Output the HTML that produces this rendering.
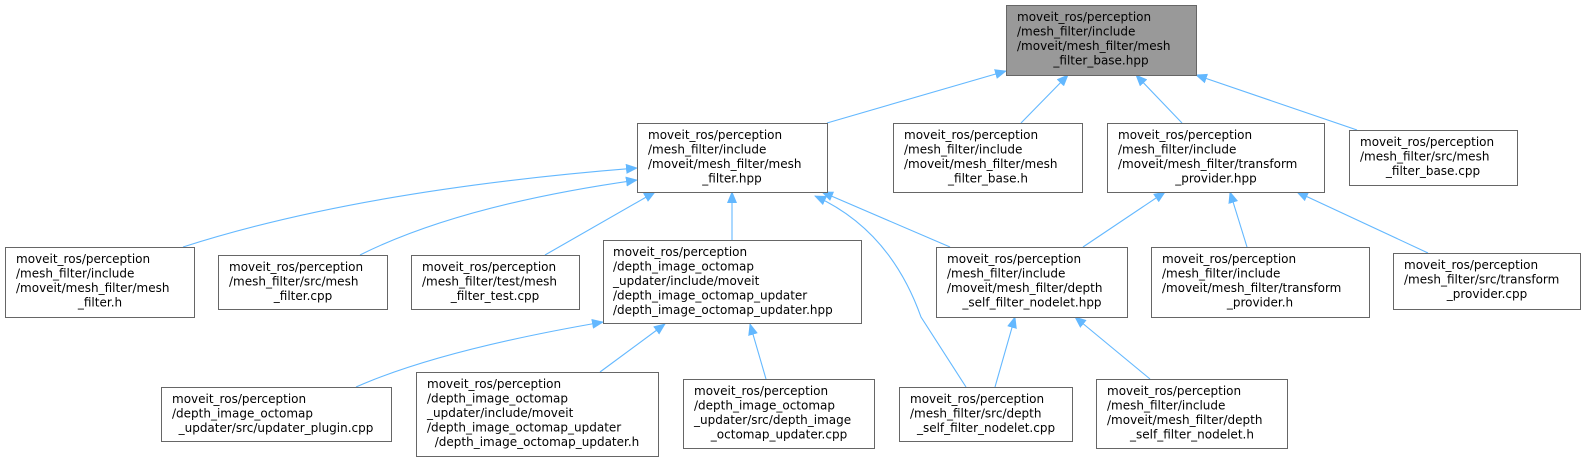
<!DOCTYPE html>
<html><head><meta charset="utf-8"><style>
html,body{margin:0;padding:0;background:#fff;}
svg{display:block;}
text{font-family:"DejaVu Sans","Liberation Sans",sans-serif;font-size:12px;fill:#000;}
</style></head><body>
<svg width="1589" height="461" viewBox="0 0 1589 461" xmlns="http://www.w3.org/2000/svg">
<defs>
<marker id="a" markerWidth="12" markerHeight="10" refX="11" refY="5" orient="auto" markerUnits="userSpaceOnUse">
<path d="M0,0 L12,5 L0,10 Z" fill="#63b8ff"/>
</marker>
</defs>
<g fill="none" stroke="#63b8ff" stroke-width="1.1" marker-end="url(#a)">
<path d="M827,123 L1006,71"/>
<path d="M1021,123 L1068,75"/>
<path d="M1182,123 L1136,75"/>
<path d="M1357,130 L1196,75"/>
<path d="M183,247 Q360,190 637,168"/>
<path d="M360,255 Q460,205 637,180"/>
<path d="M545,255 L655,192"/>
<path d="M732,240 L732,192"/>
<path d="M950,247 L822,192"/>
<path d="M966,387 L921,317 Q890,230 815,196"/>
<path d="M1083,247 L1165,192"/>
<path d="M1247,247 L1230,192"/>
<path d="M1428,253 L1297,192"/>
<path d="M356,387 Q440,350 603,322"/>
<path d="M600,372 L665,324"/>
<path d="M766,379 L750,324"/>
<path d="M995,387 L1015,317"/>
<path d="M1150,379 L1075,317"/>
</g>
<g stroke="#666" stroke-width="1">
<rect x="1006.5" y="5.5" width="190" height="70" fill="#999"/>
<rect x="637.5" y="123.5" width="190" height="69" fill="#fff"/>
<rect x="893.5" y="123.5" width="189" height="69" fill="#fff"/>
<rect x="1107.5" y="123.5" width="217" height="69" fill="#fff"/>
<rect x="1349.5" y="130.5" width="168" height="55" fill="#fff"/>
<rect x="5.5" y="247.5" width="189" height="70" fill="#fff"/>
<rect x="218.5" y="255.5" width="169" height="54" fill="#fff"/>
<rect x="411.5" y="255.5" width="168" height="54" fill="#fff"/>
<rect x="603.5" y="240.5" width="258" height="83" fill="#fff"/>
<rect x="936.5" y="247.5" width="191" height="70" fill="#fff"/>
<rect x="1151.5" y="247.5" width="218" height="70" fill="#fff"/>
<rect x="1393.5" y="253.5" width="187" height="56" fill="#fff"/>
<rect x="161.5" y="387.5" width="230" height="54" fill="#fff"/>
<rect x="416.5" y="372.5" width="242" height="84" fill="#fff"/>
<rect x="683.5" y="379.5" width="191" height="69" fill="#fff"/>
<rect x="899.5" y="387.5" width="173" height="54" fill="#fff"/>
<rect x="1096.5" y="379.5" width="191" height="69" fill="#fff"/>
</g>
<g>
<text x="1017" y="21">moveit_ros/perception</text><text x="1017" y="35.5">/mesh_filter/include</text><text x="1017" y="50">/moveit/mesh_filter/mesh</text><text x="1101" y="64.5" text-anchor="middle">_filter_base.hpp</text>

<text x="648" y="139">moveit_ros/perception</text><text x="648" y="153.5">/mesh_filter/include</text><text x="648" y="168">/moveit/mesh_filter/mesh</text><text x="732" y="182.5" text-anchor="middle">_filter.hpp</text>

<text x="904" y="139">moveit_ros/perception</text><text x="904" y="153.5">/mesh_filter/include</text><text x="904" y="168">/moveit/mesh_filter/mesh</text><text x="988" y="182.5" text-anchor="middle">_filter_base.h</text>

<text x="1118" y="139">moveit_ros/perception</text><text x="1118" y="153.5">/mesh_filter/include</text><text x="1118" y="168">/moveit/mesh_filter/transform</text><text x="1216" y="182.5" text-anchor="middle">_provider.hpp</text>

<text x="1360" y="146">moveit_ros/perception</text><text x="1360" y="160.5">/mesh_filter/src/mesh</text><text x="1433" y="175" text-anchor="middle">_filter_base.cpp</text>

<text x="16" y="263">moveit_ros/perception</text><text x="16" y="277.5">/mesh_filter/include</text><text x="16" y="292">/moveit/mesh_filter/mesh</text><text x="100" y="306.5" text-anchor="middle">_filter.h</text>

<text x="229" y="271">moveit_ros/perception</text><text x="229" y="285.5">/mesh_filter/src/mesh</text><text x="303" y="300" text-anchor="middle">_filter.cpp</text>

<text x="422" y="271">moveit_ros/perception</text><text x="422" y="285.5">/mesh_filter/test/mesh</text><text x="495" y="300" text-anchor="middle">_filter_test.cpp</text>

<text x="613" y="256">moveit_ros/perception</text><text x="613" y="270.5">/depth_image_octomap</text><text x="613" y="285">_updater/include/moveit</text><text x="613" y="299.5">/depth_image_octomap_updater</text><text x="613" y="314">/depth_image_octomap_updater.hpp</text>

<text x="947" y="263">moveit_ros/perception</text><text x="947" y="277.5">/mesh_filter/include</text><text x="947" y="292">/moveit/mesh_filter/depth</text><text x="1032" y="306.5" text-anchor="middle">_self_filter_nodelet.hpp</text>

<text x="1162" y="263">moveit_ros/perception</text><text x="1162" y="277.5">/mesh_filter/include</text><text x="1162" y="292">/moveit/mesh_filter/transform</text><text x="1260" y="306.5" text-anchor="middle">_provider.h</text>

<text x="1404" y="269">moveit_ros/perception</text><text x="1404" y="283.5">/mesh_filter/src/transform</text><text x="1487" y="298" text-anchor="middle">_provider.cpp</text>

<text x="172" y="403">moveit_ros/perception</text><text x="172" y="417.5">/depth_image_octomap</text><text x="276" y="432" text-anchor="middle">_updater/src/updater_plugin.cpp</text>

<text x="427" y="388">moveit_ros/perception</text><text x="427" y="402.5">/depth_image_octomap</text><text x="427" y="417">_updater/include/moveit</text><text x="427" y="431.5">/depth_image_octomap_updater</text><text x="537" y="446" text-anchor="middle">/depth_image_octomap_updater.h</text>

<text x="694" y="395">moveit_ros/perception</text><text x="694" y="409.5">/depth_image_octomap</text><text x="694" y="424">_updater/src/depth_image</text><text x="779" y="438.5" text-anchor="middle">_octomap_updater.cpp</text>

<text x="910" y="403">moveit_ros/perception</text><text x="910" y="417.5">/mesh_filter/src/depth</text><text x="986" y="432" text-anchor="middle">_self_filter_nodelet.cpp</text>

<text x="1107" y="395">moveit_ros/perception</text><text x="1107" y="409.5">/mesh_filter/include</text><text x="1107" y="424">/moveit/mesh_filter/depth</text><text x="1192" y="438.5" text-anchor="middle">_self_filter_nodelet.h</text>
</g>
</svg>
</body></html>
